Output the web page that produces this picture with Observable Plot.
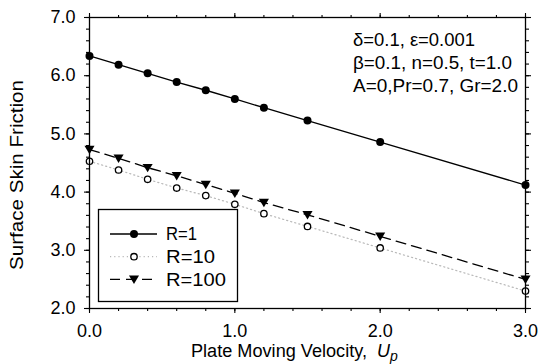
<!DOCTYPE html>
<html><head><meta charset="utf-8">
<script src="https://cdn.jsdelivr.net/npm/d3@7"></script>
<script src="https://cdn.jsdelivr.net/npm/@observablehq/plot@0.6"></script>
<style>
body{margin:0;background:#fff;overflow:hidden}
#chart svg{display:block}
</style>
</head><body><div id="chart"></div>
<script>
const velocity = [0, 0.2, 0.4, 0.6, 0.8, 1.0, 1.2, 1.5, 2.0, 3.0];
const frictionR1 = [6.34, 6.19, 6.04, 5.89, 5.75, 5.60, 5.45, 5.23, 4.86, 4.12];
const frictionR10 = [4.53, 4.38, 4.22, 4.07, 3.94, 3.79, 3.63, 3.41, 3.04, 2.30];
const frictionR100 = [4.73, 4.58, 4.42, 4.28, 4.13, 3.98, 3.82, 3.61, 3.24, 2.50];
const seriesNames = ["R=1", "R=10", "R=100"];
const xTickValues = [0, 1, 2, 3];
const yTickValues = [2, 3, 4, 5, 6, 7];
const annotationLines = ["\u03b4=0.1, \u03b5=0.001", "\u03b2=0.1, n=0.5, t=1.0", "A=0,Pr=0.7, Gr=2.0"];
const xLabel = "Plate Moving Velocity,";
const yLabel = "Surface Skin Friction";

const FONT = "'Liberation Sans', Arial, Helvetica, sans-serif";
const FS = 18;

const triDown = {
  draw(ctx, size) {
    const s = Math.sqrt(size / Math.PI);
    ctx.moveTo(-1.2 * s, -0.9 * s);
    ctx.lineTo(1.2 * s, -0.9 * s);
    ctx.lineTo(0, 1.1 * s);
    ctx.closePath();
  }
};

const seriesStyle = {
  "R=1": {stroke: "#000", dash: null, width: 1.3, symbol: "circle", fill: "#000", r: 4, dotStroke: "none"},
  "R=10": {stroke: "#b8b8b8", dash: "1.2,3", width: 1.2, symbol: "circle", fill: "#fff", r: 3.2, dotStroke: "#000"},
  "R=100": {stroke: "#000", dash: "10,6", width: 1.3, symbol: triDown, fill: "#000", r: 4.2, dotStroke: "none"}
};
const seriesValues = {"R=1": frictionR1, "R=10": frictionR10, "R=100": frictionR100};

const rows = seriesNames.flatMap(s => velocity.map((u, i) => ({u, f: seriesValues[s][i], s})));

const marks = [];
const xMinor = d3.range(0, 3.0001, 0.2);
const yMinor = d3.range(2, 7.0001, 0.2);
for (const anchor of ["bottom", "top"]) {
  marks.push(Plot.axisX({anchor, ticks: xMinor, tickSize: 3, text: null, label: null, strokeWidth: 1.1}));
  marks.push(Plot.axisX({anchor, ticks: xTickValues, tickSize: 5, strokeWidth: 1.1, label: null,
    tickFormat: anchor === "bottom" ? (d => d.toFixed(1)) : null, text: anchor === "bottom" ? undefined : null, tickPadding: 11}));
}
for (const anchor of ["left", "right"]) {
  marks.push(Plot.axisY({anchor, ticks: yMinor, tickSize: 3, text: null, label: null, strokeWidth: 1.1}));
  marks.push(Plot.axisY({anchor, ticks: yTickValues, tickSize: 5, strokeWidth: 1.1, label: null,
    tickFormat: anchor === "left" ? (d => d.toFixed(1)) : null, text: anchor === "left" ? undefined : null, tickPadding: 9}));
}
for (const s of seriesNames) {
  const st = seriesStyle[s];
  const data = rows.filter(d => d.s === s);
  marks.push(Plot.line(data, {x: "u", y: "f", stroke: st.stroke, strokeWidth: st.width, strokeDasharray: st.dash}));
}
for (const s of seriesNames) {
  const st = seriesStyle[s];
  const data = rows.filter(d => d.s === s);
  marks.push(Plot.dot(data, {x: "u", y: "f", r: st.r, symbol: st.symbol, fill: st.fill, stroke: st.dotStroke, strokeWidth: 1.3}));
}
marks.push(Plot.frame({stroke: "#000", strokeWidth: 1.3}));

const chart = Plot.plot({
  width: 539, height: 364,
  marginLeft: 89, marginRight: 14, marginTop: 17, marginBottom: 56,
  x: {domain: [0, 3]},
  y: {domain: [2, 7]},
  style: {fontFamily: FONT, fontSize: FS + "px", color: "#000", background: "#fff"},
  marks
});
document.getElementById("chart").appendChild(chart);

const svg = d3.select(chart);
function txt(parent) {
  return parent.append("text").attr("font-family", FONT).attr("font-size", FS)
    .attr("fill", "#000").attr("text-anchor", "start");
}

// annotation
const annWidths = [122, 159, 165];
annotationLines.forEach((t, i) => {
  txt(svg).attr("x", 353).attr("y", 46 + i * 23)
    .attr("textLength", annWidths[i]).attr("lengthAdjust", "spacingAndGlyphs").text(t);
});

// axis labels
const xl = txt(svg).attr("x", 191).attr("y", 357);
xl.append("tspan").attr("textLength", 176).attr("lengthAdjust", "spacingAndGlyphs").text(xLabel);
xl.append("tspan").attr("x", 377).attr("font-style", "italic").text("U");
xl.append("tspan").attr("font-style", "italic").attr("font-size", FS * 0.78).attr("dy", 4).text("p");

txt(svg).attr("text-anchor", "middle").attr("transform", "translate(23,175) rotate(-90)")
  .attr("textLength", 190).attr("lengthAdjust", "spacingAndGlyphs").text(yLabel);

// legend
const lg = svg.append("g");
lg.append("rect").attr("x", 98.5).attr("y", 209.5).attr("width", 139).attr("height", 92)
  .attr("fill", "#fff").attr("stroke", "#000").attr("stroke-width", 1.3);
const legWidths = [31, 49, 60];
seriesNames.forEach((s, i) => {
  const st = seriesStyle[s];
  const y = 234 + i * 22.7;
  lg.append("line").attr("x1", 110).attr("x2", 157).attr("y1", y).attr("y2", y)
    .attr("stroke", st.stroke).attr("stroke-width", st.width).attr("stroke-dasharray", st.dash);
  const sym = typeof st.symbol === "string" ? d3.symbolCircle : st.symbol;
  lg.append("path").attr("transform", `translate(134,${y})`)
    .attr("d", d3.symbol(sym, Math.PI * st.r * st.r)())
    .attr("fill", st.fill).attr("stroke", st.dotStroke).attr("stroke-width", 1.3);
  txt(lg).attr("x", 166).attr("y", y).attr("dy", "0.36em")
    .attr("textLength", legWidths[i]).attr("lengthAdjust", "spacingAndGlyphs").text(s);
});
</script>
</body></html>
